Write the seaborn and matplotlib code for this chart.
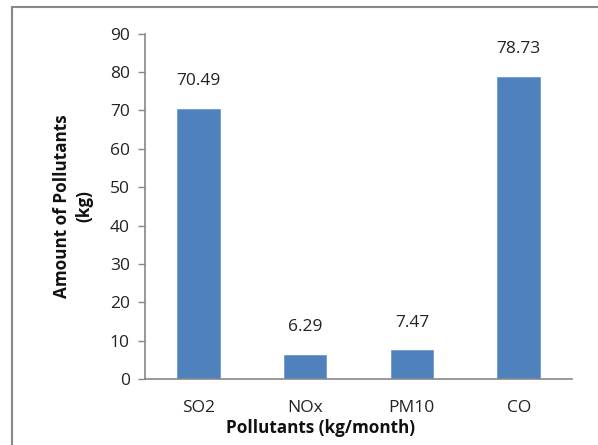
import matplotlib
matplotlib.use("Agg")
import matplotlib.pyplot as plt
from matplotlib.lines import Line2D
import seaborn as sns
import pandas as pd

pollutants = ["SO2", "NOx", "PM10", "CO"]
amounts = [70.49, 6.29, 7.47, 78.73]
y_ticks = [0, 10, 20, 30, 40, 50, 60, 70, 80, 90]

sns.set_theme(style="white")
plt.rcParams["font.family"] = ["Open Sans", "DejaVu Sans"]

df = pd.DataFrame({"Pollutant": pollutants, "Amount": amounts})

fig = plt.figure(figsize=(5.98, 4.45), dpi=100)
ax = fig.add_axes([145 / 598, 1 - 379 / 445, (572 - 145) / 598, (379 - 33.7) / 445])

sns.barplot(data=df, x="Pollutant", y="Amount", color="#4F81BD",
            saturation=1, width=0.4, ax=ax, edgecolor="#6F9AD0", linewidth=0.6)

ax.set_ylim(0, 90)
ax.set_xlim(-0.5, 3.5)
ax.set_yticks(y_ticks)
ax.set_yticklabels([str(t) for t in y_ticks], fontsize=12.5, color="#222222")
ax.tick_params(axis="y", which="major", direction="out", length=5, width=1,
               color="#888888", pad=6, left=True)
ax.tick_params(axis="x", length=0, pad=15, labelsize=12.5, labelcolor="#222222")

for side in ["top", "right"]:
    ax.spines[side].set_visible(False)
for side in ["left", "bottom"]:
    ax.spines[side].set_color("#888888")
    ax.spines[side].set_linewidth(1.2)

for i, v in enumerate(amounts):
    ax.annotate(f"{v:.2f}", xy=(i, v), xytext=(0, 14), textcoords="offset points",
                ha="center", va="bottom", fontsize=12.5, color="#222222")

ax.set_xlabel("")
ax.set_ylabel("")
fig.text(73 / 598, 1 - 206 / 445, "Amount of Pollutants\n(kg)", rotation=90,
         ha="center", va="center", fontsize=12.3, fontweight="bold",
         color="#111111", linespacing=1.35)
fig.text(320 / 598, 1 - 428 / 445, "Pollutants (kg/month)", ha="center",
         va="center", fontsize=12.3, fontweight="bold", color="#111111")

# chart frame
fig.add_artist(Line2D([12 / 598, 12 / 598], [0, 1 - 7 / 445], transform=fig.transFigure,
                      color="#888888", linewidth=1.5))
fig.add_artist(Line2D([12 / 598, 1], [1 - 7 / 445, 1 - 7 / 445], transform=fig.transFigure,
                      color="#888888", linewidth=1.5))

fig.savefig("out.png", dpi=100)
